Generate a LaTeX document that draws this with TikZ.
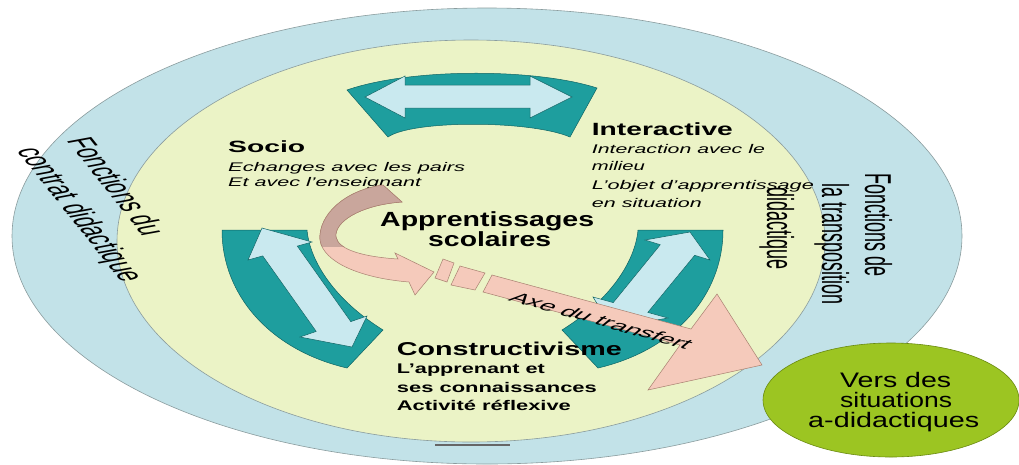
\documentclass[tikz,border=0pt]{standalone}
\usepackage{fontspec}
\setmainfont{Liberation Sans}
\usepackage{graphicx}
\usetikzlibrary{shapes.geometric}
\definecolor{ringblue}{HTML}{C2E2E8}
\definecolor{paleyellow}{HTML}{EBF3C6}
\definecolor{tealband}{HTML}{1E9E9E}
\definecolor{tealedge}{HTML}{0F6464}
\definecolor{lightarrow}{HTML}{C9E9EF}
\definecolor{pinkarrow}{HTML}{F5CABB}
\definecolor{pinkedge}{HTML}{A88070}
\definecolor{brownarrow}{HTML}{C9A69C}
\definecolor{leafgreen}{HTML}{9CC522}
\definecolor{leafedge}{HTML}{6A8A10}
\definecolor{rimgray}{HTML}{8A9C9E}
% set a line of text to a given width, keeping its height
\newcommand{\fitw}[2]{\resizebox{#1pt}{\height}{#2}}
\tikzset{
  band/.style={fill=tealband, draw=tealedge, line width=0.5pt},
  dblarrow/.style={fill=lightarrow, draw=tealedge, line width=0.5pt},
  ribbon/.style={fill=pinkarrow, draw=pinkedge, line width=0.5pt},
  txt/.style={anchor=base west, inner sep=0pt, text=black},
  arctext/.style={anchor=base west, inner sep=0pt, transform shape,
    font=\fontsize{18}{20}\selectfont},
}
\begin{document}
\begin{tikzpicture}[x=1pt, y=-1pt]
\useasboundingbox (0,0) rectangle (1019,464);
\fill[white] (0,0) rectangle (1019,464);

% outer ring and inner field
\path[fill=ringblue, draw=rimgray, line width=0.6pt] (487,236) ellipse [x radius=475pt, y radius=228pt];
\path[fill=paleyellow, draw=rimgray, line width=0.6pt] (471,241) ellipse [x radius=354pt, y radius=201pt];
\draw[line width=1.6pt, color=black!60] (435,445) -- (510,445);

% top curved block with horizontal double arrow
\path[band] (347,90) .. controls (410,68) and (535,68) .. (597,88) -- (570,137)
  .. controls (530,120) and (412,120) .. (388,137) -- cycle;
\path[dblarrow] (365,97) -- (405,76) -- (405,85) -- (530,85) -- (530,76) -- (572,97)
  -- (530,118) -- (530,108) -- (405,108) -- (405,118) -- cycle;

% left curved block
\path[band] (222,230) -- (307,230) .. controls (310,262) and (335,300) .. (383,330)
  -- (347,368) .. controls (270,350) and (222,295) .. (222,230) -- cycle;
\path[dblarrow] (262,228) -- (312,242) -- (297.3,246.1) -- (350.8,321.6) -- (367,316)
  -- (352,347) -- (300,337) -- (316.2,331.4) -- (262.7,255.9) -- (248,260) -- cycle;

% right curved block (mirror of the left one)
\begin{scope}[xshift=945pt, xscale=-1]
\path[band] (222,230) -- (307,230) .. controls (310,262) and (335,300) .. (383,330)
  -- (347,368) .. controls (270,350) and (222,295) .. (222,230) -- cycle;
\end{scope}
\path[dblarrow] (690,232) -- (710,260) -- (694.7,255.3) -- (647.8,312.4) -- (668,318)
  -- (612,328) -- (593,297) -- (613.2,302.6) -- (660.3,244.7) -- (645,240) -- cycle;

% Socio
\node[txt, font=\fontsize{16.3}{18}\selectfont\bfseries] (socio) at (228,152.3) {\fitw{77}{Socio}};
\node[txt, font=\fontsize{12.5}{14}\selectfont\itshape] (socioa) at (228,171.7) {\fitw{237}{Echanges avec les pairs}};
\node[txt, font=\fontsize{12.5}{14}\selectfont\itshape] (sociob) at (228,186.7) {\fitw{193}{Et avec l’enseignant}};

% curved ribbon arrow
\def\ribbonpath{(383,185) .. controls (345,190) and (318,215) .. (320,240)
  .. controls (323,262) and (360,278) .. (409,282) -- (415,295) -- (434,272)
  -- (395,253) -- (398,259) .. controls (365,257) and (338,250) .. (336,237)
  .. controls (334,222) and (360,205) .. (402,202) -- cycle}
\path[ribbon] \ribbonpath;
\begin{scope}
  \clip (0,0) rectangle (1019,246);
  \path[fill=brownarrow, draw=pinkedge, line width=0.5pt] \ribbonpath;
\end{scope}

% transfer axis
\path[ribbon] (443,259) -- (454,263) -- (447,282) -- (435,278) -- cycle;
\path[ribbon] (460,266) -- (485,273) -- (475,290) -- (451,285) -- cycle;
\path[ribbon] (492,275) -- (691,329) -- (717,294) -- (762,365) -- (648,390) -- (680,345) -- (483,292) -- cycle;
\begin{scope}[shift={(507,300)}, xscale=2.08]
  \node[arctext, font=\fontsize{14}{16}\selectfont, rotate=-30] (axe) at (0,0) {Axe du transfert};
\end{scope}

% centre
\node[txt, font=\fontsize{20.5}{22}\selectfont\bfseries] (appr) at (380,226.7) {\fitw{214}{Apprentissages}};
\node[txt, font=\fontsize{20.5}{22}\selectfont\bfseries] (scol) at (428,246.7) {\fitw{123}{scolaires}};

% Interactive
\node[txt, font=\fontsize{17.7}{19}\selectfont\bfseries] (inter) at (591.7,135) {\fitw{141}{Interactive}};
\node[txt, font=\fontsize{12.6}{14}\selectfont\itshape] (intera) at (591.7,153.3) {\fitw{173}{Interaction avec le}};
\node[txt, font=\fontsize{12.6}{14}\selectfont\itshape] (interb) at (591.7,170) {\fitw{53}{milieu}};
\node[txt, font=\fontsize{12.6}{14}\selectfont\itshape] (interc) at (591.7,189) {\fitw{222}{L’objet d’apprentissage}};
\node[txt, font=\fontsize{12.6}{14}\selectfont\itshape] (interd) at (591.7,207.7) {\fitw{110}{en situation}};

% Constructivisme
\node[txt, font=\fontsize{18.6}{20}\selectfont\bfseries] (constr) at (396.7,355) {\fitw{225}{Constructivisme}};
\node[txt, font=\fontsize{14}{16}\selectfont\bfseries] (constra) at (396.7,373.3) {\fitw{148}{L’apprenant et}};
\node[txt, font=\fontsize{14}{16}\selectfont\bfseries] (constrb) at (396.7,392.7) {\fitw{200}{ses connaissances}};
\node[txt, font=\fontsize{14}{16}\selectfont\bfseries] (constrc) at (396.7,410) {\fitw{174}{Activité réflexive}};

% ring labels, left side
\begin{scope}[shift={(66,140)}, xscale=2.08]
  \node[arctext, rotate=-69] (contrat1) at (0,0) {Fonctions du};
\end{scope}
\begin{scope}[shift={(16,150)}, xscale=2.08]
  \node[arctext, rotate=-69] (contrat2) at (0,0) {contrat didactique};
\end{scope}

% ring labels, right side
\begin{scope}[shift={(865,173)}, xscale=2.08]
  \node[arctext, rotate=-90] (transp1) at (0,0) {Fonctions de};
\end{scope}
\begin{scope}[shift={(822,183)}, xscale=2.08]
  \node[arctext, rotate=-90] (transp2) at (0,0) {la transposition};
\end{scope}
\begin{scope}[shift={(767,187)}, xscale=2.08]
  \node[arctext, rotate=-90] (transp3) at (0,0) {didactique};
\end{scope}

% exit towards a-didactic situations
\node[ellipse, minimum width=256pt, minimum height=114pt, inner sep=0pt,
  fill=leafgreen, draw=leafedge, line width=0.6pt] (vers) at (891,400) {};
\node[txt, font=\fontsize{21}{23}\selectfont] (versa) at (840,387) {\fitw{111}{Vers des}};
\node[txt, font=\fontsize{21}{23}\selectfont] (versb) at (840,407) {\fitw{112}{situations}};
\node[txt, font=\fontsize{21}{23}\selectfont] (versc) at (808,427) {\fitw{171}{a-didactiques}};
\end{tikzpicture}
\end{document}
